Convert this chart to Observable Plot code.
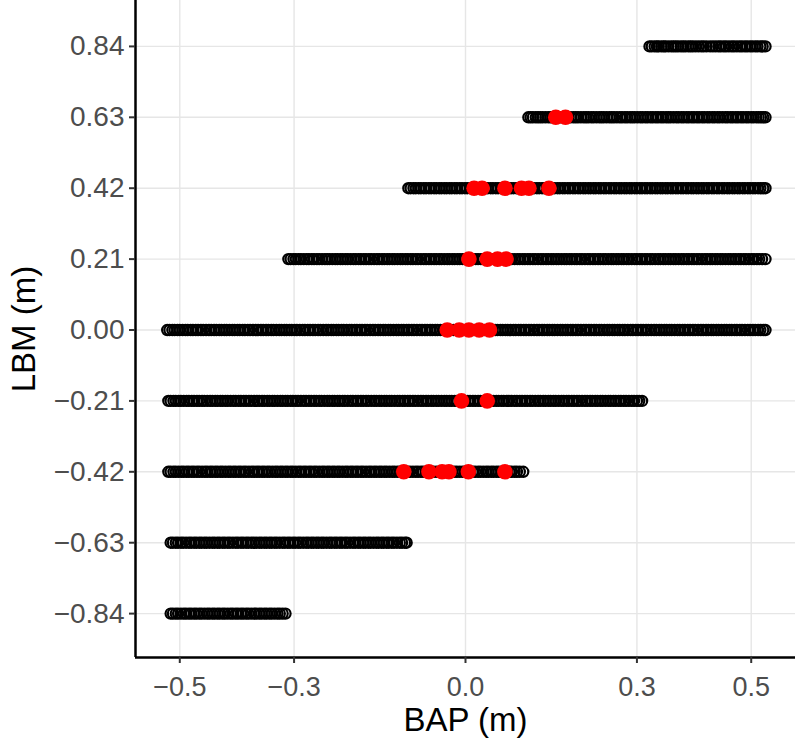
<!DOCTYPE html>
<html>
<head>
<meta charset="utf-8">
<script src="https://cdn.jsdelivr.net/npm/d3@7"></script>
<script src="https://cdn.jsdelivr.net/npm/@observablehq/plot@0.6"></script>
<style>
  html, body { margin: 0; padding: 0; background: #ffffff; }
  #chart { width: 800px; height: 755px; }
</style>
</head>
<body>
<div id="chart"></div>
<script>
// LBM levels (m) and tick labels
const lbmLevels = [0.84, 0.63, 0.42, 0.21, 0.00, -0.21, -0.42, -0.63, -0.84];
const yTicks = [-0.84, -0.63, -0.42, -0.21, 0.00, 0.21, 0.42, 0.63, 0.84];
const xTicks = [-0.5, -0.3, 0.0, 0.3, 0.5];
const xDomain = [-0.5775, 0.5775];
const yDomain = [-0.970, 0.976];

// BAP values (in mm) of the open black points, one array per LBM level
const bapAt084 = [322,326,331,335,338,343,347,350,355,360,364,368,372,377,381,385,390,394,398,403,408,413,417,422,428,433,438,443,447,452,456,461,466,470,475,480,484,489,493,498,502,507,511,516,520,525];
const bapAt063 = [110,114,118,123,127,131,135,140,145,149,153,158,162,166,171,175,180,184,189,193,197,202,207,211,215,220,224,229,234,238,242,247,252,256,260,265,270,274,279,283,288,292,296,301,306,310,315,319,324,328,333,337,342,346,351,355,359,364,369,373,378,382,387,391,396,400,405,409,414,418,423,427,432,436,441,445,450,455,459,464,468,473,477,482,486,491,495,500,504,509,513,517,521,525];
const bapAt042 = [-100,-96,-91,-87,-82,-78,-73,-69,-64,-60,-55,-51,-46,-42,-37,-33,-28,-24,-19,-15,-10,-6,-1,3,8,12,17,21,26,30,35,39,44,48,53,57,62,66,71,75,80,84,89,93,98,102,107,111,116,120,125,129,134,138,143,147,152,156,161,165,170,174,179,183,188,192,197,201,206,210,215,219,224,228,233,237,242,246,251,255,260,264,269,273,278,282,287,291,296,300,305,309,314,318,323,327,332,336,341,345,350,354,359,363,368,372,377,381,386,390,395,399,404,408,413,417,422,426,431,435,440,444,449,453,458,462,467,471,476,480,485,489,494,498,503,507,512,516,521,525];
const bapAt021 = [-310,-306,-301,-297,-292,-288,-283,-278,-274,-269,-265,-260,-256,-251,-246,-242,-238,-233,-228,-224,-219,-215,-210,-206,-201,-196,-192,-187,-183,-178,-174,-169,-165,-160,-155,-151,-146,-142,-137,-133,-128,-124,-119,-114,-110,-105,-101,-96,-92,-87,-83,-78,-73,-69,-64,-60,-55,-51,-46,-42,-37,-32,-28,-23,-19,-14,-10,-5,-1,4,9,13,18,22,27,31,36,40,45,50,54,59,63,68,72,77,81,86,91,95,100,104,109,113,118,122,127,132,136,141,145,150,154,159,163,168,173,177,182,186,191,195,200,204,209,214,218,223,227,232,236,241,245,250,255,259,264,268,273,277,282,286,291,296,300,305,309,314,318,323,327,332,337,341,346,350,355,359,364,368,373,378,382,387,391,396,400,405,409,414,419,423,428,432,437,441,446,450,455,460,464,469,473,478,482,487,491,496,501,505,510,514,519,525];
const bapAt000 = [-522,-518,-513,-509,-504,-500,-495,-490,-486,-481,-477,-472,-468,-463,-459,-454,-449,-445,-440,-436,-431,-427,-422,-418,-413,-408,-404,-399,-395,-390,-386,-381,-377,-372,-367,-363,-358,-354,-349,-345,-340,-336,-331,-326,-322,-317,-313,-308,-304,-299,-295,-290,-285,-281,-276,-272,-267,-263,-258,-254,-249,-244,-240,-235,-231,-226,-222,-217,-213,-208,-203,-199,-194,-190,-185,-181,-176,-172,-167,-162,-158,-153,-149,-144,-140,-135,-131,-126,-121,-117,-112,-108,-103,-99,-94,-90,-85,-80,-76,-71,-67,-62,-58,-53,-49,-44,-39,-35,-30,-26,-21,-17,-12,-8,-3,2,6,11,15,20,24,29,33,38,43,47,52,56,61,65,70,74,79,84,88,93,97,102,106,111,115,120,125,129,134,138,143,147,152,156,161,166,170,175,179,184,188,193,197,202,207,211,216,220,225,229,234,238,243,248,252,257,261,266,270,275,279,284,289,293,298,302,307,311,316,320,325,330,334,339,343,348,352,357,361,366,371,375,380,384,389,393,398,402,407,412,416,421,425,430,434,439,443,448,453,457,462,466,471,475,480,484,489,494,498,503,507,512,516,521,525];
const bapAtM021 = [-520,-516,-511,-507,-502,-498,-493,-488,-484,-479,-475,-470,-466,-461,-457,-452,-447,-443,-438,-434,-429,-425,-420,-416,-411,-406,-402,-397,-393,-388,-384,-379,-375,-370,-365,-361,-356,-352,-347,-343,-338,-334,-329,-324,-320,-315,-311,-306,-302,-297,-293,-288,-283,-279,-274,-270,-265,-261,-256,-252,-247,-242,-238,-233,-229,-224,-220,-215,-211,-206,-201,-197,-192,-188,-183,-179,-174,-170,-165,-160,-156,-151,-147,-142,-138,-133,-129,-124,-119,-115,-110,-106,-101,-97,-92,-88,-83,-78,-74,-69,-65,-60,-56,-51,-47,-42,-37,-33,-28,-24,-19,-15,-10,-6,-1,4,8,13,17,22,26,31,35,40,45,49,54,58,63,67,72,76,81,86,90,95,99,104,108,113,117,122,127,131,136,140,145,149,154,158,163,168,172,177,181,186,190,195,199,204,209,213,218,222,227,231,236,240,245,250,254,259,263,268,272,277,281,286,291,295,300,304,309];
const bapAtM042 = [-520,-516,-511,-507,-502,-497,-493,-488,-484,-479,-475,-470,-466,-461,-456,-452,-447,-443,-438,-434,-429,-425,-420,-415,-411,-406,-402,-397,-393,-388,-384,-379,-374,-370,-365,-361,-356,-352,-347,-343,-338,-333,-329,-324,-320,-315,-311,-306,-302,-297,-292,-288,-283,-279,-274,-270,-265,-261,-256,-251,-247,-242,-238,-233,-229,-224,-220,-215,-210,-206,-201,-197,-192,-188,-183,-179,-174,-169,-165,-160,-156,-151,-147,-142,-138,-133,-128,-124,-119,-115,-110,-106,-101,-97,-92,-87,-83,-78,-74,-69,-65,-60,-56,-51,-46,-42,-37,-33,-28,-24,-19,-15,-10,-5,-1,4,8,13,17,22,26,31,36,40,45,49,54,58,63,67,72,77,81,86,90,95,101];
const bapAtM063 = [-516,-512,-507,-503,-498,-494,-489,-484,-480,-475,-471,-466,-462,-457,-453,-448,-443,-439,-434,-430,-425,-421,-416,-412,-407,-402,-398,-393,-389,-384,-380,-375,-371,-366,-361,-357,-352,-348,-343,-339,-334,-330,-325,-320,-316,-311,-307,-302,-298,-293,-289,-284,-279,-275,-270,-266,-261,-257,-252,-248,-243,-238,-234,-229,-225,-220,-216,-211,-207,-202,-197,-193,-188,-184,-179,-175,-170,-166,-161,-156,-152,-147,-143,-138,-134,-129,-125,-120,-115,-111,-106,-103];
const bapAtM084 = [-516,-512,-507,-503,-498,-493,-489,-484,-480,-475,-471,-466,-462,-457,-452,-448,-443,-439,-434,-430,-425,-421,-416,-411,-407,-402,-398,-393,-389,-384,-380,-375,-370,-366,-361,-357,-352,-348,-343,-339,-334,-329,-325,-320,-315];

// Red (highlighted) points: paired BAP / LBM values (m)
const redBAP = [0.158, 0.175,
                0.015, 0.029, 0.069, 0.098, 0.111, 0.146,
                0.006, 0.038, 0.056, 0.071,
                -0.032, -0.011, 0.006, 0.024, 0.042,
                -0.007, 0.038,
                -0.108, -0.064, -0.041, -0.029, 0.005, 0.069];
const redLBM = [0.63, 0.63,
                0.42, 0.42, 0.42, 0.42, 0.42, 0.42,
                0.21, 0.21, 0.21, 0.21,
                0.00, 0.00, 0.00, 0.00, 0.00,
                -0.21, -0.21,
                -0.42, -0.42, -0.42, -0.42, -0.42, -0.42];

const rows = [bapAt084, bapAt063, bapAt042, bapAt021, bapAt000, bapAtM021, bapAtM042, bapAtM063, bapAtM084];
const blackData = rows.flatMap((arr, i) => arr.map(v => ({bap: v / 1000, lbm: lbmLevels[i]})));
const redData = redBAP.map((b, i) => ({bap: b, lbm: redLBM[i]}));

const fontFamily = "'Liberation Sans', Arial, Helvetica, sans-serif";
const fmtX = d3.format(".1f");
const fmtY = d3.format(".2f");

const chart = Plot.plot({
  width: 800,
  height: 755,
  marginLeft: 135,
  marginRight: 5,
  marginTop: 0,
  marginBottom: 98,
  style: {fontFamily, background: "#ffffff", color: "#000"},
  x: {domain: xDomain},
  y: {domain: yDomain},
  marks: [
    Plot.gridX(xTicks, {stroke: "#e6e6e6", strokeOpacity: 1, strokeWidth: 1.4}),
    Plot.gridY(yTicks, {stroke: "#e6e6e6", strokeOpacity: 1, strokeWidth: 1.4}),
    Plot.dot(blackData, {x: "bap", y: "lbm", r: 5.1, stroke: "#000", strokeWidth: 2.2, fill: "none"}),
    Plot.dot(redData, {x: "bap", y: "lbm", r: 7.8, fill: "#ff0000", stroke: "none"}),
    Plot.ruleX([xDomain[0]], {stroke: "#000", strokeWidth: 2.5}),
    Plot.ruleY([yDomain[0]], {stroke: "#000", strokeWidth: 2.5}),
    Plot.axisX(xTicks, {tickSize: 6, stroke: "#333", strokeWidth: 2, tickFormat: () => "", label: null}),
    Plot.axisY(yTicks, {tickSize: 6, stroke: "#333", strokeWidth: 2, tickFormat: () => "", label: null}),
    Plot.text(xTicks, {x: d => d, text: d => fmtX(d), frameAnchor: "bottom", dy: 30,
      lineAnchor: "middle", textAnchor: "middle", fontSize: 27, fill: "#4d4d4d"}),
    Plot.text(yTicks, {y: d => d, text: d => fmtY(d), frameAnchor: "left", dx: -11,
      textAnchor: "end", fontSize: 28, fill: "#4d4d4d"}),
    Plot.text(["BAP (m)"], {frameAnchor: "bottom", dy: 73, textAnchor: "middle", fontSize: 33, fill: "#000"}),
    Plot.text(["LBM (m)"], {frameAnchor: "left", dx: -111, rotate: -90, textAnchor: "middle", fontSize: 33, fill: "#000"})
  ]
});
document.getElementById("chart").appendChild(chart);
</script>
</body>
</html>
